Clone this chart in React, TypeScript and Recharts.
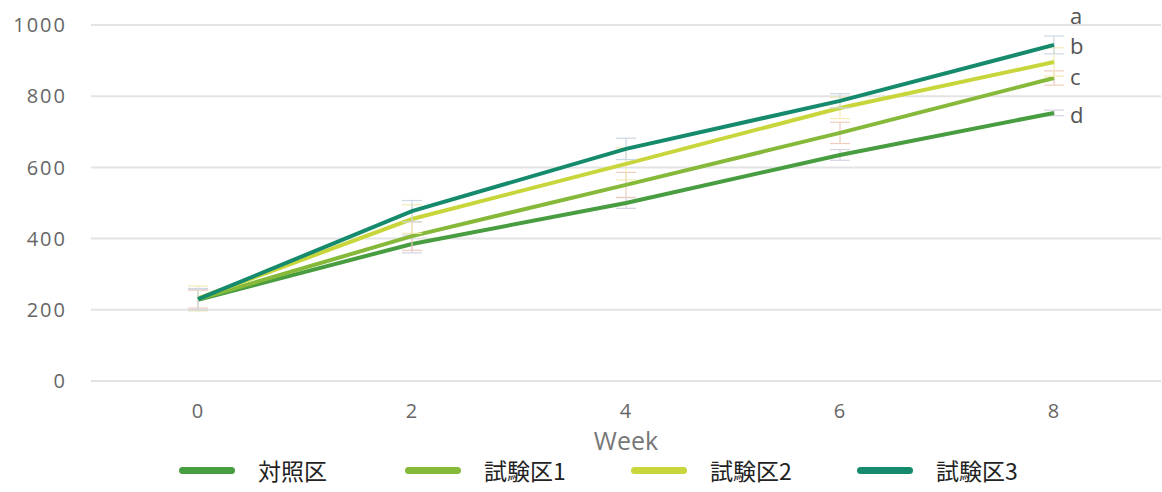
import React from 'react';
import {
  LineChart, Line, XAxis, YAxis, CartesianGrid, ErrorBar, LabelList,
} from 'recharts';

const weeks = [0, 2, 4, 6, 8];
const seriesNames = ['対照区', '試験区1', '試験区2', '試験区3'];
const control = [228, 385, 500, 635, 753];
const test1 = [230, 407, 551, 697, 851];
const test2 = [232, 455, 610, 767, 896];
const test3 = [230, 477, 652, 787, 944];
const controlErr = [30, 25, 15, 15, 8];
const test1Err = [25, 40, 35, 30, 20];
const test2Err = [35, 40, 45, 30, 40];
const test3Err = [30, 30, 30, 20, 25];
const sigLetters = ['d', 'c', 'b', 'a'];
const yTicks = [0, 200, 400, 600, 800, 1000];

const COLORS = ['#479d3f', '#86b93a', '#c8d63c', '#168a6c'];
const ERR_COLORS = ['#d6d2e2', '#efcdbf', '#f3eab6', '#ccd8e4'];
const LETTER_DY = [4, 1, -14, -27];

const allVals = [control, test1, test2, test3];
const allErrs = [controlErr, test1Err, test2Err, test3Err];

const data = weeks.map((w, i) => {
  const row: any = { week: w };
  allVals.forEach((s, k) => { row['s' + k] = s[i]; });
  allErrs.forEach((s, k) => { row['e' + k] = s[i]; });
  return row;
});

const FONT = '"Open Sans", sans-serif';

const letterLabel = (k: number) => (p: any) => {
  if (p.index !== weeks.length - 1) return null;
  return (
    <text x={p.x + 16} y={p.y + LETTER_DY[k]} dominantBaseline="middle"
      fontSize={22} fill="#555" fontFamily={FONT}>
      {sigLetters[k]}
    </text>
  );
};

export default function App() {
  return (
    <div style={{ position: 'absolute', left: 0, top: 0, width: 1162, height: 492, background: '#fff' }}>
      <LineChart width={1162} height={492} data={data} margin={{ top: 25, right: 1, bottom: 42, left: 0 }}>
        <CartesianGrid vertical={false} stroke="#e3e3e3" strokeWidth={2} />
        <XAxis dataKey="week" type="number" domain={[-1, 9]} ticks={weeks}
          axisLine={false} tickLine={false} height={69} tickMargin={17}
          tick={{ fontSize: 20, fill: '#666', fontFamily: FONT, letterSpacing: 1 }}
          label={{ value: 'Week', position: 'insideBottom', offset: 0, fontSize: 25, fill: '#777', fontFamily: FONT }} />
        <YAxis domain={[0, 1000]} ticks={yTicks} width={91}
          axisLine={false} tickLine={false} tickMargin={18}
          tick={{ fontSize: 20, fill: '#666', fontFamily: FONT, letterSpacing: 2 }} />
        {seriesNames.map((name, k) => (
          <Line key={name} name={name} dataKey={'s' + k} stroke={COLORS[k]} strokeWidth={4}
            dot={false} activeDot={false} isAnimationActive={false}>
            <ErrorBar dataKey={'e' + k} direction="y" width={10} stroke={ERR_COLORS[k]} strokeWidth={1.2} />
            <LabelList dataKey={'s' + k} content={letterLabel(k)} />
          </Line>
        ))}
      </LineChart>
      <div style={{ position: 'absolute', left: 179, top: 454, display: 'flex', fontFamily: '"Noto Sans CJK JP", sans-serif' }}>
        {seriesNames.map((name, k) => (
          <div key={name} style={{ width: 226, display: 'flex', alignItems: 'center', height: 32 }}>
            <div style={{ width: 56, height: 7, borderRadius: 4, background: COLORS[k] }} />
            <span style={{ marginLeft: 23, fontSize: 23, fontWeight: 400, color: '#222' }}>{name}</span>
          </div>
        ))}
      </div>
    </div>
  );
}
